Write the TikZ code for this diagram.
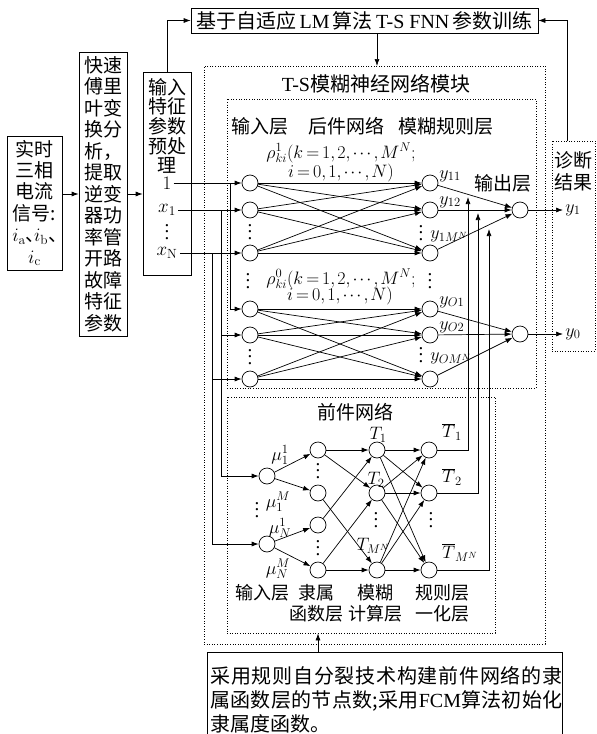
\RequirePackage{fix-cm}
\documentclass[tikz,border=0pt]{standalone}
\usepackage[no-math]{fontspec}
\setmainfont{Noto Sans CJK SC}
\newfontfamily\latin{Liberation Serif}
\usetikzlibrary{arrows.meta,positioning}

\newcommand{\vdotz}{\vbox{\latin\baselineskip=6.5pt\lineskiplimit=0pt\hbox{.}\hbox{.}\hbox{.}}}
\newcommand{\tmath}[1]{{\thickmuskip=3mu\relax\medmuskip=2mu\relax\thinmuskip=2mu\relax$#1$}}

\begin{document}
\begin{tikzpicture}[
        x=1pt, y=-1pt,
        line width=0.7pt,
        font=\fontsize{19}{22}\selectfont,
        arr/.style={-{Latex[length=7pt,width=5pt]}},
        blockbox/.style={draw, inner sep=0pt, align=center},
        dotbox/.style={draw, dash pattern=on 1pt off 1.6pt, inner sep=0pt},
        neuron/.style={circle, draw, minimum size=16pt, inner sep=0pt},
        lbl/.style={inner sep=0pt, align=center},
        sym/.style={inner sep=0pt, font=\fontsize{18}{20}\selectfont}
    ]

        \useasboundingbox (0,0) rectangle (597,734);

% --- Signal chain (left) ---
        \node[blockbox, minimum width=55pt, minimum height=134pt, font=\fontsize{19}{21.4}\selectfont] (sig) at (34.5,203)
            {实时\\三相\\电流\\信号:\\$i_{\mathrm{a}}$\makebox[8.5pt][l]{、}$i_{\mathrm{b}}$\makebox[8.5pt][l]{、}\\$i_{\mathrm{c}}$};
        \node[blockbox, minimum width=48pt, minimum height=284pt, font=\fontsize{19}{21.5}\selectfont] (fft) at (103,194)
            {快速\\傅里\\叶变\\换分\\析，\\提取\\逆变\\器功\\率管\\开路\\故障\\特征\\参数};
        \node[blockbox, minimum width=48pt, minimum height=203pt] (pre) at (167,173.5) {};
        \node[lbl, font=\fontsize{19}{19.7}\selectfont] (pretxt) at (167,126) {输入\\特征\\参数\\预处\\理};
        \node[lbl, inner sep=2pt] (one) at (167,183) {$1$};
        \node[lbl, inner sep=2pt] (xone) at (167,210) {$x_{1}$};
        \node[lbl] (pdots) at (167,232) {\vdotz};
        \node[lbl, inner sep=2pt] (xn) at (167,253) {$x_{\mathrm{N}}$};

% --- Training box (top) ---
        \node[blockbox, minimum width=347pt, minimum height=25pt, font=\fontsize{20}{22}\selectfont] (train) at (364.5,20.5)
            {基于自适应{\latin\,LM\,}算法{\latin\,T-S FNN\,}参数训练};

% --- Frames ---
        \node[dotbox, minimum width=341pt, minimum height=578pt] (tsm) at (374.5,355) {};
        \node[lbl, font=\fontsize{20}{22}\selectfont] (tstitle) at (376,84) {{\latin T-S}模糊神经网络模块};
        \node[dotbox, minimum width=309pt, minimum height=289pt] (back) at (381.5,243.5) {};
        \node[dotbox, minimum width=268pt, minimum height=236pt] (front) at (361,515) {};
        \node[dotbox, minimum width=43pt, minimum height=210pt] (diag) at (573.5,246) {};
        \node[lbl] (diagtxt) at (573.5,171) {诊断\\结果};

% --- Consequent network ---
        \node[lbl] (inlay) at (260,126) {输入层};
        \node[lbl] (backlbl) at (346,126) {后件网络};
        \node[lbl] (rulelay) at (446,126) {模糊规则层};
        \node[sym] (rho1a) at (341,153) {\tmath{\rho^{1}_{ki}(k=1,2,\cdots,M^{N};}};
        \node[sym] (rho1b) at (341,173) {\tmath{i=0,1,\cdots,N)}};
        \node[sym] (rho0a) at (341,279) {\tmath{\rho^{0}_{ki}(k=1,2,\cdots,M^{N};}};
        \node[sym] (rho0b) at (340,296) {\tmath{i=0,1,\cdots,N)}};
        \node[lbl] (ldots) at (248,281) {\vdotz};
        \node[lbl] (rdots) at (430,281) {\vdotz};

        \node[neuron] (a1) at (250,183) {};
        \node[neuron] (a2) at (250,210) {};
        \node[neuron] (a3) at (250,253) {};
        \node[neuron] (a4) at (250,309) {};
        \node[neuron] (a5) at (250,335) {};
        \node[neuron] (a6) at (250,379) {};
        \node[lbl] (adots1) at (250,232) {\vdotz};
        \node[lbl] (adots2) at (250,357) {\vdotz};

        \node[neuron] (r1) at (430,183) {};
        \node[neuron] (r2) at (430,210) {};
        \node[neuron] (r3) at (430,253) {};
        \node[neuron] (r4) at (430,309) {};
        \node[neuron] (r5) at (430,335) {};
        \node[neuron] (r6) at (430,379) {};
        \node[sym, anchor=west] (ly11) at (439,176) {$y_{11}$};
        \node[sym, anchor=west] (ly12) at (439,202) {$y_{12}$};
        \node[lbl] (rdots1) at (421,233) {\vdotz};
        \node[sym, anchor=west] (ly1m) at (430,236) {$y_{1M^{N}}$};
        \node[sym, anchor=west] (lyo1) at (439,302) {$y_{O1}$};
        \node[sym, anchor=west] (lyo2) at (439,327) {$y_{O2}$};
        \node[lbl] (rdots2) at (421,355) {\vdotz};
        \node[sym, anchor=west] (lyom) at (430,358) {$y_{OM^{N}}$};

        \node[neuron] (o1) at (520,210) {};
        \node[neuron] (o0) at (520,334) {};
        \node[lbl] (outlay) at (503,183) {输出层};
        \node[sym, anchor=west, inner sep=2pt] (ly1) at (563,210) {$y_{1}$};
        \node[sym, anchor=west, inner sep=2pt] (ly0) at (563,334) {$y_{0}$};

% --- Antecedent network ---
        \node[lbl] (frontlbl) at (355,412) {前件网络};
        \node[neuron] (u1) at (267,476) {};
        \node[neuron] (u2) at (267,544) {};
        \node[neuron] (m1) at (318,450) {};
        \node[neuron] (m2) at (318,493) {};
        \node[neuron] (m3) at (318,525) {};
        \node[neuron] (m4) at (318,570) {};
        \node[neuron] (t1) at (377,450) {};
        \node[neuron] (t2) at (377,493) {};
        \node[neuron] (t3) at (377,570) {};
        \node[neuron] (n1) at (429,450) {};
        \node[neuron] (n2) at (429,493) {};
        \node[neuron] (n3) at (429,570) {};

        \node[sym] (lmu11) at (280,455) {$\mu^{1}_{1}$};
        \node[sym] (lmu1m) at (278,502) {$\mu^{M}_{1}$};
        \node[lbl] (udots) at (257,510) {\vdotz};
        \node[sym] (lmun1) at (280,528) {$\mu^{1}_{N}$};
        \node[sym] (lmunm) at (278,569) {$\mu^{M}_{N}$};
        \node[lbl] (mdots1) at (318,471) {\vdotz};
        \node[lbl] (mdots2) at (318,548) {\vdotz};
        \node[sym] (lt1) at (378,435) {$T_{1}$};
        \node[sym] (lt2) at (376,480) {$T_{2}$};
        \node[sym] (ltm) at (373,546) {$T_{M^{N}}$};
        \node[lbl] (tdots) at (376,520) {\vdotz};
        \node[sym] (ln1) at (452,432) {$\overline{T}_{1}$};
        \node[sym] (ln2) at (452,477) {$\overline{T}_{2}$};
        \node[sym] (lnm) at (460,553) {$\overline{T}_{M^{N}}$};
        \node[lbl] (ndots) at (431,520) {\vdotz};

        \node[lbl, font=\fontsize{18}{21}\selectfont] (l_in) at (262,593) {输入层};
        \node[lbl, font=\fontsize{18}{21}\selectfont] (l_mf) at (316,603.5) {隶属\\函数层};
        \node[lbl, font=\fontsize{18}{21}\selectfont] (l_calc) at (375,603.5) {模糊\\计算层};
        \node[lbl, font=\fontsize{18}{21}\selectfont] (l_norm) at (442,603.5) {规则层\\一化层};

% --- Note (bottom) ---
        \draw (207,734) |- (562,652) -- (562,734);
        \node[lbl, anchor=north west, text width=352pt, align=justify, font=\fontsize{20}{24}\selectfont] (note) at (210,666)
            {\XeTeXlinebreaklocale "zh"\XeTeXlinebreakskip=0pt plus 1.5pt\noindent 采用规则自分裂技术构建前件网络的隶属函数层的节点数;采用{\latin FCM}算法初始化隶属度函数。};

% --- Connectors ---
        \draw[arr] (sig.east |- fft.west) -- (fft.west);
        \draw[arr] (fft.east) -- (fft.east -| pre.west);
        \draw[arr] (pre.north) |- (train.west);
        \coordinate (tsin) at (377,66);
        \draw[arr] (train.south -| tsin) -- (tsin);
        \coordinate (fb) at (567,141);
        \draw[arr] (fb) |- (train.east);
        \coordinate (nt) at (318,652);
        \draw[arr] (nt) -- (front.south -| nt);

        \draw[arr] (one) -- (a1);
        \draw[arr] (xone) -- (a2);
        \draw[arr] (xn) -- (a3);
        \coordinate (j1) at (230,183);
        \coordinate (j2) at (221,210);
        \coordinate (j3) at (212,253);
        \draw[arr] (j1) |- (a4);
        \draw[arr] (j2) |- (a5);
        \draw[arr] (j2) |- (u1);
        \draw[arr] (j3) |- (a6);
        \draw[arr] (j3) |- (u2);

        \foreach \i in {1,2,3} \foreach \j in {1,2,3} \draw[arr] (a\i) -- (r\j);
        \foreach \i in {4,5,6} \foreach \j in {4,5,6} \draw[arr] (a\i) -- (r\j);
        \foreach \i in {1,2,3} \draw[arr] (r\i) -- (o1);
        \foreach \i in {4,5,6} \draw[arr] (r\i) -- (o0);
        \draw[arr] (o1) -- (ly1);
        \draw[arr] (o0) -- (ly0);

        \draw[arr] (u1) -- (m1);
        \draw[arr] (u1) -- (m2);
        \draw[arr] (u2) -- (m3);
        \draw[arr] (u2) -- (m4);
        \draw[arr] (m1) -- (t1);
        \draw[arr] (m1) -- (t2);
        \draw[arr] (m2) -- (t3);
        \draw[arr] (m3) -- (t1);
        \draw[arr] (m4) -- (t2);
        \draw[arr] (m4) -- (t3);
        \foreach \i in {1,2,3} \foreach \j in {1,2,3} \draw[arr] (t\i) -- (n\j);

        \coordinate (up1) at (468,197);
        \coordinate (up2) at (478,213);
        \coordinate (up3) at (489,229);
        \draw[arr] (n1) -| (up1);
        \draw[arr] (n2) -| (up2);
        \draw[arr] (n3) -| (up3);

    \end{tikzpicture}
\end{document}
